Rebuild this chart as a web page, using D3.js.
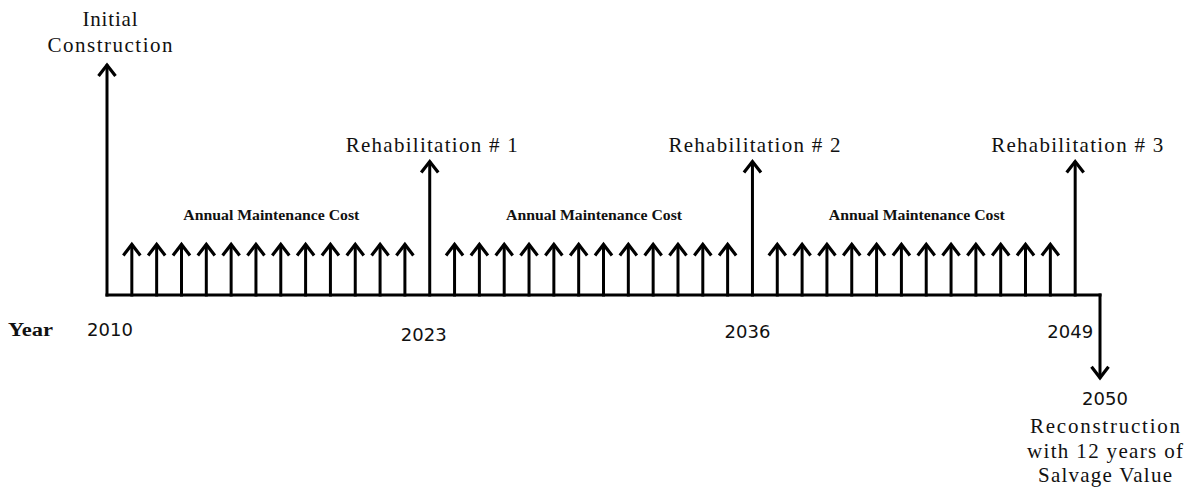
<!DOCTYPE html>
<html>
<head>
<meta charset="utf-8">
<script src="https://cdn.jsdelivr.net/npm/d3@7"></script>
<style>
  body { margin: 0; background: #fff; }
  svg { display: block; }
</style>
</head>
<body>
<svg width="1192" height="491"></svg>
<script>
// Timeline data (years of the cash flow diagram)
const startYear = 2010;
const endYear = 2050;
const rehabYears = [2023, 2036, 2049];
const rehabLabels = ["Rehabilitation # 1", "Rehabilitation # 2", "Rehabilitation # 3"];
const maintenanceYears = [
  2011, 2012, 2013, 2014, 2015, 2016, 2017, 2018, 2019, 2020, 2021, 2022,
  2024, 2025, 2026, 2027, 2028, 2029, 2030, 2031, 2032, 2033, 2034, 2035,
  2037, 2038, 2039, 2040, 2041, 2042, 2043, 2044, 2045, 2046, 2047, 2048
];
const maintenanceGroups = [[2011, 2022], [2024, 2035], [2037, 2048]];
const yearTicks = [2010, 2023, 2036, 2049, 2050];
const constructionLabel = ["Initial", "Construction"];
const salvageLabel = ["Reconstruction", "with 12 years of", "Salvage Value"];

// relative sizes of the cash flows (schematic)
const constructionSize = 1.0;
const rehabSize = 0.58;
const maintenanceSize = 0.22;
const salvageSize = -0.36;

window.onload = init;

function init() {
  const svg = d3.select("svg");

  const x = d3.scaleLinear().domain([startYear, endYear]).range([107, 1100]);
  const y = d3.scaleLinear().domain([0, 1]).range([295, 65]);

  const serif = "'Liberation Serif', 'Times New Roman', serif";
  const sans = "'DejaVu Sans', Verdana, sans-serif";
  const ink = "#111";

  // draws one arrow from the baseline to the given size
  function arrow(g, year, size) {
    const px = x(year), y0 = y(0), y1 = y(size);
    const dir = size > 0 ? 1 : -1;
    g.append("line")
      .attr("x1", px).attr("x2", px)
      .attr("y1", y0).attr("y2", y1 + dir * 1)
      .attr("stroke", "#000").attr("stroke-width", 3)
      .attr("stroke-linecap", "square");
    g.append("path")
      .attr("d", `M${px - 8.5},${y1 + dir * 11} L${px},${y1} L${px + 8.5},${y1 + dir * 11}`)
      .attr("fill", "none")
      .attr("stroke", "#000").attr("stroke-width", 3.2)
      .attr("stroke-linejoin", "miter");
  }

  const arrows = svg.append("g");

  // time axis line
  arrows.append("line")
    .attr("x1", x(startYear)).attr("x2", x(endYear))
    .attr("y1", y(0)).attr("y2", y(0))
    .attr("stroke", "#000").attr("stroke-width", 3)
    .attr("stroke-linecap", "square");

  arrow(arrows, startYear, constructionSize);
  maintenanceYears.forEach(yr => arrow(arrows, yr, maintenanceSize));
  rehabYears.forEach(yr => arrow(arrows, yr, rehabSize));
  arrow(arrows, endYear, salvageSize);

  // helper for text with fixed width
  function label(txt, cx, by, opts) {
    const t = svg.append("text")
      .attr("x", cx).attr("y", by)
      .attr("text-anchor", opts.anchor || "middle")
      .attr("font-family", opts.family || serif)
      .attr("font-size", opts.size)
      .attr("font-weight", opts.weight || "normal")
      .attr("fill", ink)
      .text(txt);
    if (opts.width) t.attr("textLength", opts.width).attr("lengthAdjust", opts.adjust || "spacing");
    return t;
  }

  // Initial construction label
  label(constructionLabel[0], x(startYear) + 3, 26, { size: 21, width: 55 });
  label(constructionLabel[1], x(startYear) + 3, 52, { size: 21, width: 125 });

  // Rehabilitation labels
  rehabYears.forEach((yr, i) => {
    label(rehabLabels[i], x(yr) + 2, 152, { size: 21, width: 172 });
  });

  // Annual maintenance labels, centred over each group
  maintenanceGroups.forEach(gr => {
    label("Annual Maintenance Cost", (x(gr[0]) + x(gr[1])) / 2 + 3, 220,
      { size: 14, weight: "bold", width: 176, adjust: "spacingAndGlyphs" });
  });

  // Year axis labels
  label("Year", 8, 336, { size: 18, weight: "bold", anchor: "start", width: 45, adjust: "spacingAndGlyphs" });
  const tickNudge = { 2010: 3, 2023: -6, 2036: -5, 2049: -5, 2050: 5 };
  const tickBase = { 2010: 336, 2023: 341, 2036: 338, 2049: 338, 2050: 405 };
  yearTicks.forEach(yr => {
    label(String(yr), x(yr) + tickNudge[yr], tickBase[yr], { size: 18, family: sans, width: 46 });
  });

  // Salvage label under the last year
  const salvageWidths = [150, 156, 134];
  salvageLabel.forEach((s, i) => {
    label(s, x(endYear) + 5, 433 + i * 24.5, { size: 21, width: salvageWidths[i] });
  });
}
</script>
</body>
</html>
